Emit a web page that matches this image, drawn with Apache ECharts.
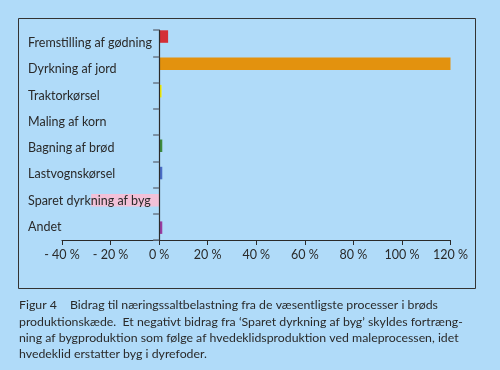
<!DOCTYPE html>
<html><head><meta charset="utf-8">
<script src="https://cdn.jsdelivr.net/npm/echarts@6/dist/echarts.min.js"></script>
<style>html,body{margin:0;padding:0;background:#b0dbf9;}#c{width:500px;height:370px;}</style>
</head><body><div id="c"></div>
<script>
const categories = ['Fremstilling af gødning', 'Dyrkning af jord', 'Traktorkørsel', 'Maling af korn', 'Bagning af brød', 'Lastvognskørsel', 'Sparet dyrkning af byg', 'Andet'];
const values = [3.7, 120, 1.0, 0, 1.3, 1.3, -28, 1.3];
const colorsByCat = ['#d42e37', '#e3920e', '#f6ef00', '#888888', '#3d8b3d', '#4a6cc6', '#f2c1d8', '#9a3ca0'];
const xTicks = [-40, -20, 0, 20, 40, 60, 80, 100, 120];
const captionHead = 'Figur 4';
const captionLines = [
  'Bidrag til næringssaltbelastning fra de væsentligste processer i brøds',
  'produktionskæde.  Et negativt bidrag fra ‘Sparet dyrkning af byg’ skyldes fortræng-',
  'ning af bygproduktion som følge af hvedeklidsproduktion ved maleprocessen, idet',
  'hvedeklid erstatter byg i dyrefoder.'
];

const FONT = 'Lato';
const chart = echarts.init(document.getElementById('c'), null, {renderer: 'canvas'});
const gridLeft = 62, gridW = 388.5;
chart.setOption({
  backgroundColor: '#b0dbf9',
  animation: false,
  grid: [
    {left: gridLeft, width: gridW, top: 30, height: 210, outerBoundsMode: 'none', containLabel: false},
    {left: gridLeft, width: gridW, top: 22.9, height: 218.4, outerBoundsMode: 'none', containLabel: false}
  ],
  xAxis: [
    {gridIndex: 0, type: 'value', min: xTicks[0], max: xTicks[xTicks.length - 1], interval: 20,
     splitLine: {show: false},
     axisLine: {show: true, lineStyle: {color: '#2a2a2a', width: 1.2}},
     axisTick: {show: true, length: 5, lineStyle: {color: '#2a2a2a'}},
     axisLabel: {color: '#2a2a2a', fontFamily: FONT, fontSize: 12.5, margin: 8,
       formatter: v => (v < 0 ? '- ' + Math.abs(v) : v) + ' %'}},
    {gridIndex: 1, type: 'value', min: xTicks[0], max: xTicks[xTicks.length - 1], show: false, splitLine: {show: false}}
  ],
  yAxis: [
    {gridIndex: 0, type: 'category', data: categories, inverse: true, z: 10,
     axisLine: {show: true, onZero: true, lineStyle: {color: '#2a2a2a', width: 1.2}},
     axisTick: {show: true, length: 6, lineStyle: {color: '#6a7888', width: 1.5}},
     axisLabel: {align: 'left', margin: 34, padding: [4, 0, 0, 0], color: '#2a2a2a', fontFamily: FONT, fontSize: 12.5}},
    {gridIndex: 1, type: 'category', data: categories, inverse: true, show: false}
  ],
  series: [{
    type: 'bar', xAxisIndex: 1, yAxisIndex: 1, barWidth: 12.5, z: 2,
    data: values.map((v, i) => ({value: v, itemStyle: {color: colorsByCat[i]}})),
    silent: true
  }],
  graphic: [
    {type: 'rect', shape: {x: 18.5, y: 18.5, width: 457, height: 270},
     style: {fill: null, stroke: '#333', lineWidth: 1}, z: 100},
    {type: 'text', left: 19, top: 299, style: {text: captionHead, fill: '#2a2a2a', font: '12.3px ' + FONT}},
    {type: 'text', left: 70, top: 299, style: {text: captionLines[0], fill: '#2a2a2a', font: '12.3px ' + FONT}},
    {type: 'text', left: 19, top: 314.6, style: {text: captionLines.slice(1).join('\n'), fill: '#2a2a2a', font: '12.3px ' + FONT, lineHeight: 15.6}}
  ]
});
</script></body></html>
